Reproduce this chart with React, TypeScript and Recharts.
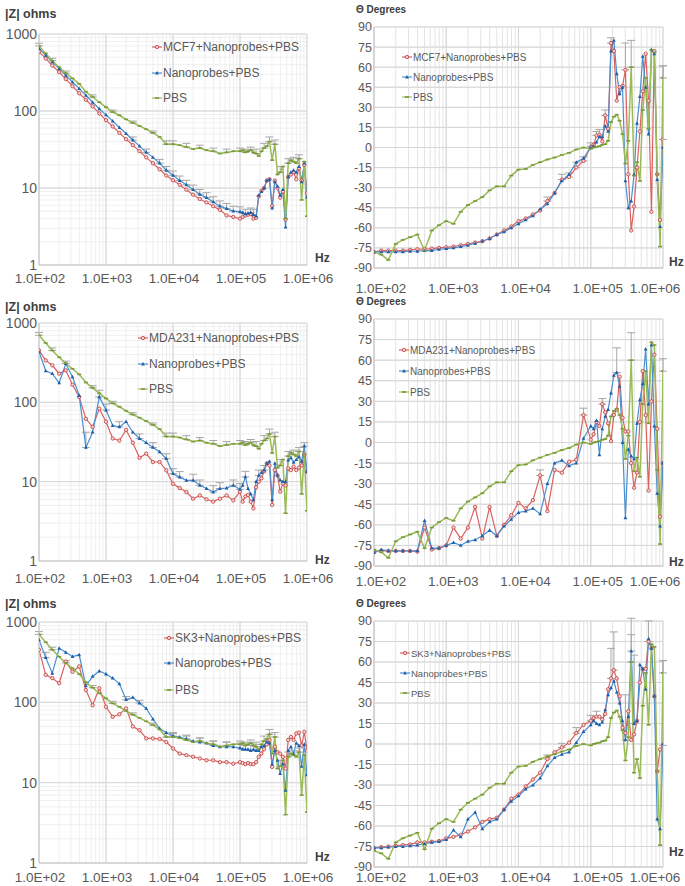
import { LineChart, Line, XAxis, YAxis, CartesianGrid, ErrorBar } from "recharts";

// frequency points (Hz): 10 per decade up to 1e5, finer above
const FREQ = [
  100, 126, 158, 200, 251, 316, 398, 501, 631, 794,
  1000, 1259, 1585, 1995, 2512, 3162, 3981, 5012, 6310, 7943,
  10000, 12589, 15849, 19953, 25119, 31623, 39811, 50119, 63096, 79433,
  100000, 109648, 120226, 131826, 144544, 158489, 173780, 190546, 208930, 229087,
  251189, 275423, 301995, 331131, 363078, 398107, 436516, 478630, 524807, 575440,
  630957, 691831, 758578, 831764, 912011, 1000000,
];

const X_TICKS = [100, 1000, 10000, 100000, 1000000];
const Z_TICKS = [1, 10, 100, 1000];
const PHASE_TICKS = [-90, -75, -60, -45, -30, -15, 0, 15, 30, 45, 60, 75, 90];

// |Z| (ohms)
const PBS_Z = [
  700, 560, 450, 370, 310, 265, 225, 178, 152, 130,
  112, 97, 88, 78, 70, 64, 58, 52, 46, 37,
  37, 36, 34, 32, 33, 31, 30, 28, 29, 30,
  30, 31, 29, 30, 31, 29, 28, 26, 30, 33, 35, 40, 23, 37, 15, 16, 19, 4, 21, 23, 22, 21, 24, 7, 22, 4.3,
];
const MCF7_Z = [
  590, 480, 390, 320, 260, 210, 170, 140, 115, 93,
  76, 63, 52, 43, 36, 30, 25, 21, 17.5, 14.5,
  12.6, 11, 9.5, 8.2, 7.2, 6.5, 5.8, 5.2, 4.4, 4.2,
  4.0, 4.2, 4.4, 4.5, 4.6, 4.0, 4.1, 7.8, 9.2, 10, 12.5, 13, 5.8, 12.5, 10, 7.5, 9, 3.9, 14, 15, 16, 13, 18, 12.5, 20, 8.5,
];
const NANO1_Z = [
  650, 530, 435, 355, 290, 238, 195, 160, 130, 107,
  89, 74, 61, 51, 42, 35, 29, 25, 21, 17,
  14.6, 12.5, 11, 9.5, 8.3, 7.5, 6.6, 5.8, 5.4, 5.0,
  4.9, 4.8, 4.6, 4.7, 4.8, 4.5, 4.3, 8.0, 9.0, 10, 12.5, 13, 5.5, 12, 10.5, 8, 9.5, 3.1, 14, 16, 17, 16, 19, 12, 21, 7.6,
];
const MDA_Z = [
  452, 338, 293, 230, 253, 167, 117, 62, 49, 83,
  57, 35, 33, 45, 31, 20, 22.6, 17.7, 17.7, 13.9,
  9.4, 8.3, 7.4, 6.1, 6.7, 6.0, 5.6, 6.1, 6.7, 5.8,
  7.5, 5.6, 6.5, 6.8, 5.6, 4.6, 8.5, 10, 11, 13.5, 17, 16, 5.1, 14, 12, 7.5, 9.5, 9, 14.7, 14, 15.5, 14, 15, 16, 22, 13.4,
];
const NANO2_Z = [
  430, 250, 230, 176, 307, 209, 122, 27, 42, 117,
  80, 51, 49, 57, 42, 35, 31, 27, 23.8, 19.5,
  12.6, 11.4, 10.4, 10.4, 9.0, 8.2, 7.4, 8.2, 8.3, 9.0,
  8, 9, 11.5, 8.2, 7, 5.9, 10, 12, 13, 14, 17, 18, 5.9, 17, 12, 10.5, 10, 10, 18.7, 20, 17.5, 19, 20.6, 18, 28, 13.4,
];
const SK3_Z = [
  451, 220, 200, 173, 322, 240, 280, 142, 92, 150,
  88, 66, 71, 84, 50, 45, 35.5, 35.5, 35, 32,
  26.6, 23, 22, 21, 20, 19, 19, 18, 18, 17.2,
  18, 17.5, 17, 17.5, 17, 17, 18, 21, 23, 26, 30, 34, 15.7, 28, 24, 23, 21, 15, 34, 37, 34, 41, 42, 29, 43, 25,
];
const NANO3_Z = [
  600, 360, 230, 470, 420, 370, 390, 160, 210, 245,
  225, 200, 170, 108, 115, 98, 84, 62, 47, 42,
  38, 37, 35, 33, 32, 31, 29, 28, 28, 28,
  27, 26, 26, 26, 25, 26, 25, 25, 28, 29, 32, 31, 17, 25, 19, 13, 17, 8, 25, 28, 23, 31, 29, 16, 30, 12.5,
];

// phase (degrees)
const PBS_PHASE = [
  -78, -80, -84, -72, -69, -67, -65, -77, -62, -58,
  -55, -57, -48, -43, -40, -37, -32, -29, -29, -21,
  -16.5, -16, -13, -11, -9, -7.5, -5.5, -4, -1.5, 0,
  -1, 0, 0.5, 1, 2, 2.5, 5, 19, 23, 24.5, 20, 10, -12, 5, 60, -21, -11, -25, 28, 52, 14, 73, 71, -20, -74, 52,
];
const MCF7_PHASE = [
  -78, -77, -77, -77, -77, -76.5, -76, -76, -75.5, -75,
  -74.5, -74, -73, -72, -71, -70, -68, -65, -62, -59,
  -55, -53, -50, -47, -40, -34, -24, -22, -15, -10,
  0.5, 2, 9, 9.5, 4.5, 24, 14, 78, 72, 35, 45, 46, 58, -20, -62, -44, -15, 12, 42, 70, 35, -48, 72, -20, -54, 6,
];
const NANO1_PHASE = [
  -78, -78, -78, -78, -78, -77.5, -77.5, -77, -77, -76,
  -75.5, -75, -74, -73, -71.5, -70, -68, -65, -63, -60,
  -57, -54, -51, -46, -42, -34, -25, -20, -11, -8,
  0, 1, 4, 8, 8, 16, 12, 72, 80, 55, 40, 45, -25, -45, -40, -20, 18, 38, 68, 45, 10, 73, 70, -24, -59, 0,
];
const MDA_PHASE = [
  -80, -79, -79, -79, -79, -79, -79.5, -62, -78, -77,
  -75, -62, -70, -62, -47, -70, -47, -68, -60, -53,
  -44, -48, -42, -24, -50, -20, -22, -14, -12.6, 20,
  2, 6, 15, 12, 28, 22, 14, 1, 20, 24, 48, 18, 8, 8, -15, -33, -22, 15, 52, 20, -35, 30, 64, 10, -54, -15,
];
const NANO2_PHASE = [
  -80, -78, -79, -79, -79, -79, -79, -57, -77, -77,
  -75, -73, -75, -72, -71, -68, -64, -68, -61, -56,
  -51, -50, -48, -52, -30, -15, -13, -17, -15, 3,
  12, 10, 16, -9, 10, 19, 24, 36, 49, 51, 41, 0, -55, -5, -10, -12, 14, 31, 43, 68, 28, 71, 12, -37, -61, -15,
];
const SK3_PHASE = [
  -76, -75.5, -75, -74.5, -74, -73.5, -72, -72, -71.5, -71,
  -69, -68, -66.5, -64, -61, -57, -55, -54, -48, -40,
  -37, -31, -26, -21, -11, -6, -2.5, 1, 8, 14,
  17, 19, 20, 20, 18, 22, 40, 48, 54, 48, 35, 12, 8, 24, 3, 7, 17, 45, 55, 55, 75, 70, 35, -20, -4, -1,
];
const NANO3_PHASE = [
  -76, -76, -75.5, -75, -75, -74.5, -74, -73, -72, -71.5,
  -70, -63, -68, -55, -50, -62, -57, -55, -48, -42,
  -38, -33, -30, -25, -16, -10, -7.5, -6, 1, 9,
  14, 17, 15, 14, 16, 25, 36, 41, 46, 38, 30, 17, 3, 20, 68, 15, 17, 58, 55, 40, 77, 70, 35, -55, -62, 0,
];

// upper error bars (0 = none drawn)
const PBS_Z_ERR = [
  60, 0, 35, 0, 20, 0, 0, 0, 10, 0,
  0, 6, 0, 0, 4, 0, 0, 3, 0, 4,
  4, 0, 4, 0, 3, 0, 3, 0, 3, 0,
  3, 0, 3, 0, 3, 0, 4, 0, 0, 5, 0, 6, 0, 5, 0, 3, 0, 0, 3, 0, 3, 0, 3, 0, 0, 0,
];
const NANO1_Z_ERR = [
  0, 0, 0, 0, 0, 0, 0, 0, 0, 0,
  0, 0, 0, 0, 4, 0, 3, 0, 2.5, 2,
  2, 1.8, 1.6, 1.4, 1.3, 1.2, 1.1, 1, 0.9, 0.8,
  0.8, 0, 0.7, 0, 0.7, 0.8, 0, 0, 0, 0, 0, 0, 0, 0, 0, 0, 0, 0, 0, 0, 0, 0, 0, 0, 0, 0,
];
const NANO2_Z_ERR = [
  0, 0, 0, 0, 0, 0, 0, 15, 0, 25,
  15, 0, 8, 0, 0, 5, 0, 4, 0, 3,
  2, 2, 0, 2, 1.5, 0, 1.5, 1.5, 0, 1.5,
  1.5, 0, 2, 0, 0, 0, 0, 2, 0, 2, 0, 0, 0, 0, 0, 0, 0, 0, 0, 0, 0, 0, 0, 0, 3, 0,
];
const NANO3_Z_ERR = [
  0, 60, 0, 0, 0, 0, 0, 0, 0, 0,
  0, 0, 0, 10, 0, 8, 0, 0, 0, 0,
  4, 0, 4, 0, 4, 0, 4, 0, 4, 0,
  4, 0, 4, 0, 4, 0, 5, 0, 0, 0, 0, 0, 0, 0, 0, 0, 0, 0, 0, 0, 0, 0, 0, 0, 0, 0,
];
const PBS_PHASE_ERR = [
  0, 0, 0, 0, 0, 0, 0, 0, 0, 0,
  0, 0, 0, 0, 0, 0, 0, 0, 0, 0,
  0, 0, 0, 0, 0, 0, 0, 0, 0, 0,
  0, 0, 0, 0, 0, 0, 0, 0, 0, 0, 0, 0, 0, 0, 20, 0, 0, 0, 0, 0, 0, 0, 0, 0, 0, 9,
];
const MCF7_PHASE_ERR = [
  0, 0, 0, 0, 0, 0, 0, 0, 0, 0,
  0, 0, 0, 0, 0, 0, 0, 0, 0, 0,
  0, 0, 0, 0, 3, 0, 4, 3, 4, 3,
  3, 0, 3, 4, 0, 4, 0, 4, 0, 0, 0, 0, 20, 0, 0, 0, 0, 0, 0, 0, 0, 0, 0, 0, 0, 55,
];
const MDA_PHASE_ERR = [
  0, 0, 0, 0, 0, 0, 0, 0, 0, 0,
  0, 0, 0, 0, 0, 0, 0, 0, 0, 0,
  0, 0, 0, 4, 0, 0, 0, 0, 0, 5,
  0, 0, 0, 0, 4, 0, 0, 0, 0, 0, 0, 0, 0, 0, 0, 0, 0, 0, 0, 0, 0, 0, 0, 0, 0, 0,
];
const NANO2_PHASE_ERR = [
  0, 0, 0, 0, 0, 0, 0, 0, 0, 0,
  0, 0, 0, 0, 0, 0, 0, 0, 0, 0,
  0, 0, 0, 0, 0, 0, 0, 0, 0, 0,
  0, 0, 0, 0, 0, 0, 0, 0, 0, 18, 0, 0, 0, 0, 0, 0, 0, 0, 0, 0, 0, 0, 0, 0, 0, 0,
];
const SK3_PHASE_ERR = [
  0, 0, 0, 0, 0, 0, 0, 0, 0, 0,
  0, 0, 0, 0, 0, 0, 0, 0, 0, 0,
  0, 0, 0, 0, 3, 0, 3, 0, 4, 0,
  4, 0, 4, 0, 0, 0, 0, 22, 28, 0, 0, 0, 0, 0, 0, 0, 0, 0, 0, 0, 15, 0, 0, 0, 0, 62,
];
const NANO3_PHASE_ERR = [
  0, 0, 0, 0, 0, 0, 0, 0, 0, 0,
  0, 0, 0, 0, 0, 0, 0, 0, 0, 0,
  0, 0, 0, 0, 0, 0, 0, 0, 0, 0,
  0, 0, 0, 0, 0, 0, 0, 0, 0, 0, 0, 0, 33, 0, 24, 50, 0, 0, 0, 0, 0, 0, 0, 0, 0, 0,
];

const FONT = "'Liberation Sans', Arial, sans-serif";
const RED = "#d9625f";
const RED_DARK = "#c0393a";
const BLUE = "#4a90cf";
const BLUE_DARK = "#1f5ea8";
const GREEN = "#9bbb59";
const GREEN_DARK = "#7a9a3a";
const TEXT = "#595959";
const ERR = "#a6a6a6";

// minor grid values for the log axes
const X_MINOR: number[] = [];
for (const d of [100, 1000, 10000, 100000]) for (let m = 1; m <= 10; m++) X_MINOR.push(d * m);
const Z_MINOR: number[] = [];
for (const d of [1, 10, 100]) for (let m = 1; m <= 10; m++) Z_MINOR.push(d * m);

const redDot = (p: any) =>
  p.cx == null ? <g key={p.index} /> : (
    <circle key={p.index} cx={p.cx} cy={p.cy} r={1.7} fill="#f7d4d3" stroke={RED_DARK} strokeWidth={0.8} />
  );
const blueDot = (p: any) =>
  p.cx == null ? <g key={p.index} /> : (
    <path key={p.index} d={`M${p.cx},${p.cy - 2.1}L${p.cx + 1.9},${p.cy + 1.4}L${p.cx - 1.9},${p.cy + 1.4}Z`} fill={BLUE_DARK} />
  );
const greenDot = (p: any) =>
  p.cx == null ? <g key={p.index} /> : (
    <rect key={p.index} x={p.cx - 2} y={p.cy - 0.8} width={4} height={1.6} fill={GREEN_DARK} />
  );

const fmtHz = (v: number) => `1.0E+${String(Math.round(Math.log10(v))).padStart(2, "0")}`;

function HzTick({ x, y, payload, shift, maxRight }: any) {
  let cx = x + shift;
  if (cx + 27 > maxRight) cx = maxRight - 27;
  return (
    <text x={cx} y={y} dy="0.71em" textAnchor="middle" fontSize={13.5} fill={TEXT} fontFamily={FONT}>
      {fmtHz(payload.value)}
    </text>
  );
}

const upper = (key: string) => (d: any) => (d[key] ? [0, d[key]] : null);

type PanelProps = {
  kind: "z" | "phase";
  plotTop: number;
  plotBottom: number;
  cell: number[];
  nano: number[];
  pbs: number[];
  cellErr?: number[];
  nanoErr?: number[];
  pbsErr?: number[];
  cellName: string;
  xTickMargin: number;
  legendLeft: number;
  legendTops: number[];
  legendSize: number;
  titleTop: number;
  hzTop: number;
};

function LegendRow({ color, dot, label, left, top, size }: any) {
  return (
    <div style={{ position: "absolute", left: left - 12, top: top - 8, height: 16, display: "flex", alignItems: "center" }}>
      <svg width={12} height={16}>
        <line x1={1} y1={8} x2={11} y2={8} stroke={color} strokeWidth={1.2} />
        {dot({ cx: 6, cy: 8, index: 0 })}
      </svg>
      <span style={{ fontSize: size, color: TEXT, fontFamily: FONT, whiteSpace: "nowrap" }}>{label}</span>
    </div>
  );
}

function Panel(props: PanelProps) {
  const isZ = props.kind === "z";
  const left = isZ ? 0 : 340;
  const width = isZ ? 340 : 345;
  const yAxisWidth = isZ ? 39 : 34;
  const marginRight = isZ ? 33 : 22;
  const plotH = props.plotBottom - props.plotTop;
  const top = props.plotTop - 10;
  const height = plotH + 10 + 30;

  const data = FREQ.map((f, i) => ({
    f,
    cell: props.cell[i],
    nano: props.nano[i],
    pbs: props.pbs[i],
    cellErr: props.cellErr ? props.cellErr[i] : 0,
    nanoErr: props.nanoErr ? props.nanoErr[i] : 0,
    pbsErr: props.pbsErr ? props.pbsErr[i] : 0,
  }));

  return (
    <>
      <div style={{ position: "absolute", left, top, width, height }}>
        <LineChart width={width} height={height} data={data} margin={{ top: 10, right: marginRight, bottom: 0, left: 0 }}>
          <CartesianGrid
            verticalValues={X_MINOR}
            horizontalValues={isZ ? Z_MINOR : PHASE_TICKS}
            stroke={isZ ? "#efefef" : "#e4e4e4"}
            strokeWidth={1}
          />
          <CartesianGrid
            verticalValues={X_TICKS}
            horizontalValues={isZ ? Z_TICKS : PHASE_TICKS}
            stroke="#d6d6d6"
            strokeWidth={1}
          />
          <XAxis
            dataKey="f"
            type="number"
            scale="log"
            domain={[100, 1000000]}
            ticks={X_TICKS}
            interval={0}
            tick={<HzTick shift={isZ ? 1 : 7} maxRight={width - 3} />}
            tickLine={false}
            tickSize={0}
            tickMargin={props.xTickMargin}
            height={30}
            axisLine={{ stroke: "#c8c8c8" }}
            allowDataOverflow
          />
          {isZ ? (
            <YAxis
              type="number"
              scale="log"
              domain={[1, 1000]}
              ticks={Z_TICKS}
              interval={0}
              width={yAxisWidth}
              tickLine={false}
              tickSize={0}
              tickMargin={2}
              axisLine={{ stroke: "#c8c8c8" }}
              tick={{ fontSize: 14, fill: TEXT, fontFamily: FONT }}
              allowDataOverflow
            />
          ) : (
            <YAxis
              type="number"
              domain={[-90, 90]}
              ticks={PHASE_TICKS}
              interval={0}
              width={yAxisWidth}
              tickLine={false}
              tickSize={0}
              tickMargin={2}
              axisLine={{ stroke: "#c8c8c8" }}
              tick={{ fontSize: 12.5, fill: TEXT, fontFamily: FONT }}
              allowDataOverflow
            />
          )}
          <Line dataKey="cell" stroke={RED} strokeWidth={1.2} dot={redDot} isAnimationActive={false}>
            {props.cellErr && <ErrorBar dataKey={upper("cellErr")} direction="y" width={4} stroke={ERR} strokeWidth={1} />}
          </Line>
          <Line dataKey="nano" stroke={BLUE} strokeWidth={1.2} dot={blueDot} isAnimationActive={false}>
            {props.nanoErr && <ErrorBar dataKey={upper("nanoErr")} direction="y" width={4} stroke={ERR} strokeWidth={1} />}
          </Line>
          <Line dataKey="pbs" stroke={GREEN} strokeWidth={1.5} dot={greenDot} isAnimationActive={false}>
            {props.pbsErr && <ErrorBar dataKey={upper("pbsErr")} direction="y" width={4} stroke={ERR} strokeWidth={1} />}
          </Line>
        </LineChart>
      </div>

      <div
        style={{
          position: "absolute",
          left: isZ ? 5 : 356,
          top: props.titleTop - 7,
          lineHeight: "14px",
          fontFamily: FONT,
          fontWeight: 700,
          fontSize: isZ ? 12.5 : 10,
          color: "#404040",
          whiteSpace: "nowrap",
        }}
      >
        {isZ ? "|Z| ohms" : "Θ Degrees"}
      </div>
      <div
        style={{
          position: "absolute",
          left: isZ ? 315 : 669,
          top: props.hzTop - 7,
          lineHeight: "14px",
          fontFamily: FONT,
          fontWeight: 700,
          fontSize: 12,
          color: "#404040",
        }}
      >
        Hz
      </div>

      <LegendRow color={RED} dot={redDot} label={props.cellName} left={props.legendLeft} top={props.legendTops[0]} size={props.legendSize} />
      <LegendRow color={BLUE} dot={blueDot} label="Nanoprobes+PBS" left={props.legendLeft} top={props.legendTops[1]} size={props.legendSize} />
      <LegendRow color={GREEN} dot={greenDot} label="PBS" left={props.legendLeft} top={props.legendTops[2]} size={props.legendSize} />
    </>
  );
}

export default function App() {
  return (
    <div style={{ position: "absolute", left: 0, top: 0, width: 685, height: 886, overflow: "hidden", background: "#fff" }}>
      <Panel kind="z" plotTop={34} plotBottom={265} cell={MCF7_Z} nano={NANO1_Z} pbs={PBS_Z}
        nanoErr={NANO1_Z_ERR} pbsErr={PBS_Z_ERR} cellName="MCF7+Nanoprobes+PBS"
        xTickMargin={8} legendLeft={163} legendTops={[47, 72.5, 98]} legendSize={12} titleTop={14} hzTop={258} />
      <Panel kind="phase" plotTop={27} plotBottom={268} cell={MCF7_PHASE} nano={NANO1_PHASE} pbs={PBS_PHASE}
        cellErr={MCF7_PHASE_ERR} pbsErr={PBS_PHASE_ERR} cellName="MCF7+Nanoprobes+PBS"
        xTickMargin={15} legendLeft={413} legendTops={[57, 77, 97]} legendSize={10} titleTop={10} hzTop={262} />

      <Panel kind="z" plotTop={323} plotBottom={561} cell={MDA_Z} nano={NANO2_Z} pbs={PBS_Z}
        nanoErr={NANO2_Z_ERR} pbsErr={PBS_Z_ERR} cellName="MDA231+Nanoprobes+PBS"
        xTickMargin={12} legendLeft={149} legendTops={[338, 364, 389]} legendSize={12} titleTop={307} hzTop={560} />
      <Panel kind="phase" plotTop={319} plotBottom={566} cell={MDA_PHASE} nano={NANO2_PHASE} pbs={PBS_PHASE}
        cellErr={MDA_PHASE_ERR} nanoErr={NANO2_PHASE_ERR} pbsErr={PBS_PHASE_ERR} cellName="MDA231+Nanoprobes+PBS"
        xTickMargin={10} legendLeft={410} legendTops={[350, 371, 392]} legendSize={10} titleTop={302} hzTop={562} />

      <Panel kind="z" plotTop={622} plotBottom={863} cell={SK3_Z} nano={NANO3_Z} pbs={PBS_Z}
        nanoErr={NANO3_Z_ERR} pbsErr={PBS_Z_ERR} cellName="SK3+Nanoprobes+PBS"
        xTickMargin={9} legendLeft={175} legendTops={[638, 663, 690]} legendSize={12} titleTop={604} hzTop={857} />
      <Panel kind="phase" plotTop={621} plotBottom={867} cell={SK3_PHASE} nano={NANO3_PHASE} pbs={PBS_PHASE}
        cellErr={SK3_PHASE_ERR} nanoErr={NANO3_PHASE_ERR} pbsErr={PBS_PHASE_ERR} cellName="SK3+Nanoprobes+PBS"
        xTickMargin={5} legendLeft={411} legendTops={[653, 673, 693]} legendSize={9.5} titleTop={604} hzTop={852} />
    </div>
  );
}
